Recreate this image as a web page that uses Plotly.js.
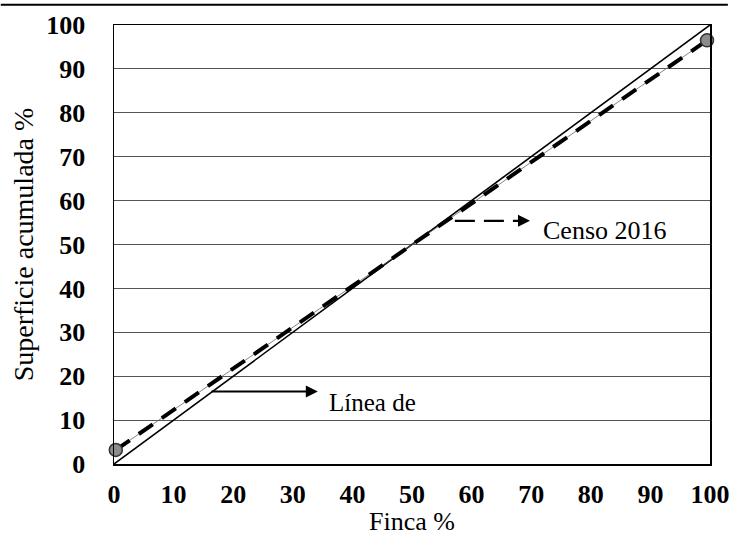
<!DOCTYPE html>
<html>
<head>
<meta charset="utf-8">
<script src="https://cdn.plot.ly/plotly-3.0.1.min.js"></script>
<style>html,body{margin:0;padding:0;background:#fff;}#chart{width:732px;height:536px;}</style>
</head>
<body>
<div id="chart"></div>
<script>
// Data
const equalityX = [0, 100];
const equalityY = [0, 100];
const censoX = [0.3, 99.5];
const censoY = [3.2, 96.5];
const tickVals = [0, 10, 20, 30, 40, 50, 60, 70, 80, 90, 100];
const tickText = ["0", "10", "20", "30", "40", "50", "60", "70", "80", "90", "100"];
const labelLinea = "Línea de";
const labelCenso = "Censo 2016";
// pointer positions (data units)
const lineaPointerX = [16.1, 34.2];
const lineaPointerY = [16.5, 16.5];
const censoPointerX = [57.2, 68.6];
const censoPointerY = [55.4, 55.4];

const font = "Liberation Serif, Times New Roman, serif";

const traces = [
  {x: equalityX, y: equalityY, mode: 'lines', line: {color: '#000', width: 1.6}, hoverinfo: 'skip'},
  {x: censoX, y: censoY, mode: 'lines', line: {color: '#666', width: 0.8}, hoverinfo: 'skip'},
  {x: censoX, y: censoY, mode: 'lines+markers', line: {color: '#000', width: 4, dash: '17px,11px'},
   marker: {size: 13, color: '#8c8c8c', line: {color: '#333', width: 1.5}}, cliponaxis: false, hoverinfo: 'skip'},
  {x: censoPointerX, y: censoPointerY, mode: 'lines', line: {color: '#000', width: 2.2, dash: '20px,9px'}, hoverinfo: 'skip'}
];

const layout = {
  width: 732, height: 536,
  margin: {l: 114, r: 22, t: 25, b: 72},
  paper_bgcolor: '#fff', plot_bgcolor: '#fff',
  showlegend: false,
  font: {family: font, color: '#000'},
  xaxis: {
    range: [0, 100], tickvals: tickVals, ticktext: tickText,
    showgrid: false, zeroline: false, showline: true, mirror: true,
    linecolor: '#000', linewidth: 1.5, ticks: '', ticklabelstandoff: 6,
    tickfont: {family: font, size: 26, color: '#000', weight: 'bold'},
    title: {text: 'Finca %', font: {family: font, size: 26, color: '#000'}, standoff: 0}
  },
  yaxis: {
    range: [0, 100], tickvals: tickVals, ticktext: tickText,
    showgrid: true, gridcolor: '#555', gridwidth: 1, zeroline: false,
    showline: true, mirror: true, linecolor: '#000', linewidth: 1.5, ticks: '', ticklabelstandoff: 22,
    tickfont: {family: font, size: 26, color: '#000', weight: 'bold'},
    title: {text: 'Superficie acumulada %', font: {family: font, size: 28, color: '#000'}, standoff: 4}
  },
  shapes: [
    {type: 'line', xref: 'paper', yref: 'paper', x0: -0.19, x1: 1.03, y0: 1.046, y1: 1.046,
     line: {color: '#000', width: 2}}
  ],
  annotations: [
    {x: lineaPointerX[1], y: lineaPointerY[1], ax: lineaPointerX[0], ay: lineaPointerY[0],
     xref: 'x', yref: 'y', axref: 'x', ayref: 'y', text: '', showarrow: true,
     arrowhead: 2, arrowsize: 1.2, arrowwidth: 2, arrowcolor: '#000'},
    {x: lineaPointerX[1] + 1.6, y: 14.0, xref: 'x', yref: 'y', text: labelLinea, showarrow: false,
     xanchor: 'left', yanchor: 'middle', font: {family: font, size: 25, color: '#000'}},
    {x: 69.8, y: censoPointerY[0], ax: 67.5, ay: censoPointerY[0],
     xref: 'x', yref: 'y', axref: 'x', ayref: 'y', text: '', showarrow: true,
     arrowhead: 2, arrowsize: 1.2, arrowwidth: 2, arrowcolor: '#000'},
    {x: 71.6, y: 53.3, xref: 'x', yref: 'y', text: labelCenso, showarrow: false,
     xanchor: 'left', yanchor: 'middle', font: {family: font, size: 26, color: '#000'}}
  ]
};

Plotly.newPlot('chart', traces, layout, {staticPlot: true, displayModeBar: false});
</script>
</body>
</html>
